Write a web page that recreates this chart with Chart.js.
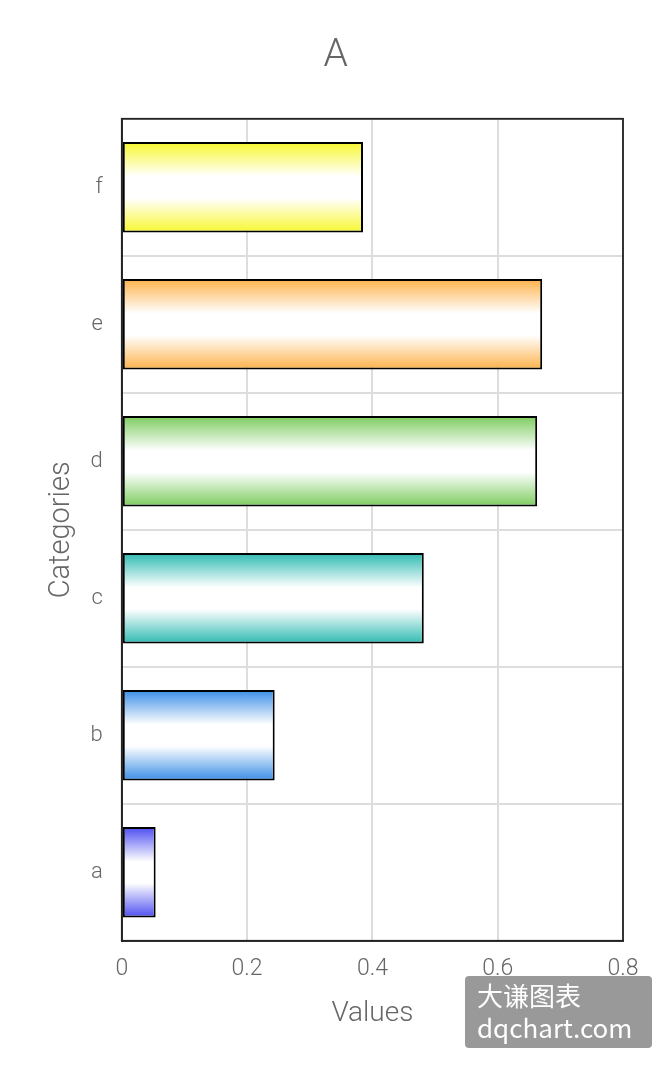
<!DOCTYPE html>
<html>
<head>
<meta charset="utf-8">
<script src="https://cdn.jsdelivr.net/npm/chart.js@4/dist/chart.umd.min.js"></script>
<style>
    html, body { margin: 0; padding: 0; background: #fff; }
    #wrap { position: relative; width: 672px; height: 1069px; }
    #marca {
        position: absolute; left: 465px; top: 976px; width: 187px; height: 72px;
        background: #999; border-radius: 4px; color: #fff;
        font-family: "Noto Sans CJK SC", "Noto Sans", sans-serif; font-size: 26px; line-height: 32px;
        padding: 3px 0 0 12px; box-sizing: border-box;
    }
</style>
</head>
<body>
<div id="wrap">
    <canvas id="grafico" width="672" height="1069"></canvas>
    <div id="marca">大谦图表<br>dqchart.com</div>
</div>
<script>
const categorias = ['a', 'b', 'c', 'd', 'e', 'f'];
const valores = [0.054, 0.244, 0.482, 0.663, 0.671, 0.385];
const colores = ['#4d4df2', '#3a8de6', '#2ebab2', '#7ccc5e', '#fdb24a', '#f7f72e'];
const ticksX = [0, 0.2, 0.4, 0.6, 0.8];

const fuente = 'Roboto, "Noto Sans", sans-serif';

// degradado vertical: color arriba y abajo, blanco al centro
function degradado(context) {
    const chart = context.chart;
    if (!chart.chartArea || !chart.scales.y) return colores[context.dataIndex];
    const escalaY = chart.scales.y;
    const centro = escalaY.getPixelForValue(context.dataIndex);
    const banda = (chart.chartArea.bottom - chart.chartArea.top) / categorias.length;
    const alto = banda * 0.66;
    const g = chart.ctx.createLinearGradient(0, centro - alto / 2, 0, centro + alto / 2);
    const c = colores[context.dataIndex];
    g.addColorStop(0, c);
    g.addColorStop(0.38, '#ffffff');
    g.addColorStop(0.62, '#ffffff');
    g.addColorStop(1, c);
    return g;
}

// marco alrededor del área del gráfico
const marco = {
    id: 'marco',
    afterDatasetsDraw(chart) {
        const { ctx, chartArea } = chart;
        ctx.save();
        ctx.strokeStyle = '#222';
        ctx.lineWidth = 1.8;
        ctx.strokeRect(chartArea.left, chartArea.top, chartArea.right - chartArea.left, chartArea.bottom - chartArea.top);
        ctx.restore();
    }
};

new Chart(document.getElementById('grafico'), {
    type: 'bar',
    data: {
        labels: categorias,
        datasets: [{
            data: valores,
            backgroundColor: degradado,
            borderColor: '#000',
            borderWidth: 2,
            borderSkipped: false,
            barPercentage: 0.66,
            categoryPercentage: 1
        }]
    },
    options: {
        indexAxis: 'y',
        responsive: false,
        animation: false,
        layout: { padding: { top: 20, right: 49, bottom: 36.6, left: 48.6 } },
        plugins: {
            legend: { display: false },
            tooltip: { enabled: false },
            title: {
                display: true,
                text: 'A',
                color: '#666',
                font: { family: fuente, size: 39, weight: 300 },
                padding: { top: 13, bottom: 39 }
            }
        },
        scales: {
            x: {
                min: 0,
                max: 0.8,
                afterBuildTicks: axis => { axis.ticks = ticksX.map(v => ({ value: v })); },
                ticks: {
                    color: '#666',
                    font: { family: fuente, size: 23, weight: 300 },
                    padding: 15,
                    callback: v => String(v)
                },
                grid: { color: '#dddddd', lineWidth: 2, drawTicks: false },
                border: { color: '#222', width: 1.8 },
                title: {
                    display: true,
                    text: 'Values',
                    color: '#666',
                    font: { family: fuente, size: 28, weight: 300, lineHeight: 1 },
                    padding: { top: 2 }
                }
            },
            y: {
                reverse: true,
                ticks: {
                    color: '#666',
                    font: { family: fuente, size: 22, weight: 300 },
                    padding: 19
                },
                grid: { color: '#dddddd', lineWidth: 2, drawTicks: false },
                border: { color: '#222', width: 1.8 },
                title: {
                    display: true,
                    text: 'Categories',
                    color: '#666',
                    font: { family: fuente, size: 29, weight: 300, lineHeight: 0.655 },
                    padding: { bottom: 0 }
                }
            }
        }
    },
    plugins: [marco]
});
</script>
</body>
</html>
